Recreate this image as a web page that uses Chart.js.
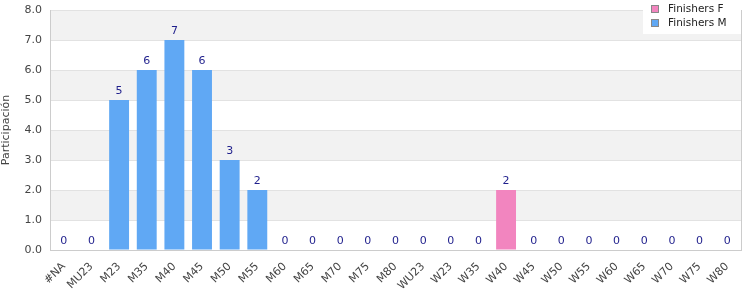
<!DOCTYPE html>
<html lang="es">
<head>
<meta charset="UTF-8">
<title>Participación</title>
<script src="https://cdn.jsdelivr.net/npm/chart.js"></script>
<style>
  html, body { margin: 0; padding: 0; background: #fff; }
  #wrap { width: 750px; height: 300px; }
</style>
</head>
<body>
<div id="wrap"><canvas id="chart" width="750" height="300"></canvas></div>
<script>
const categories = ['#NA', 'MU23', 'M23', 'M35', 'M40', 'M45', 'M50', 'M55', 'M60', 'M65', 'M70', 'M75', 'M80',
  'WU23', 'W23', 'W35', 'W40', 'W45', 'W50', 'W55', 'W60', 'W65', 'W70', 'W75', 'W80'];
const finishersF = [0, 0, 0, 0, 0, 0, 0, 0, 0, 0, 0, 0, 0, 0, 0, 0, 2, 0, 0, 0, 0, 0, 0, 0, 0];
const finishersM = [0, 0, 5, 6, 7, 6, 3, 2, 0, 0, 0, 0, 0, 0, 0, 0, 0, 0, 0, 0, 0, 0, 0, 0, 0];
const yTicks = [0, 1, 2, 3, 4, 5, 6, 7, 8];

const FONT = '"DejaVu Sans", Verdana, sans-serif';
const pink = '#f285bf';
const blue = '#60a8f4';

// alternating horizontal bands behind the bars
const bands = {
  id: 'bands',
  beforeDraw(chart) {
    const { ctx, chartArea: a, scales: { y } } = chart;
    ctx.save();
    for (let i = 0; i < yTicks.length - 1; i++) {
      if (i % 2 === 1) {
        const top = y.getPixelForValue(yTicks[i + 1]);
        const bot = y.getPixelForValue(yTicks[i]);
        ctx.fillStyle = '#f2f2f2';
        ctx.fillRect(a.left, top, a.right - a.left, bot - top);
      }
    }
    ctx.strokeStyle = '#cccccc';
    ctx.lineWidth = 1;
    ctx.beginPath();
    ctx.moveTo(a.right + 0.5, a.top);
    ctx.lineTo(a.right + 0.5, a.bottom);
    ctx.stroke();
    ctx.restore();
  }
};

// totals above each stack + legend box
const extras = {
  id: 'extras',
  afterDatasetsDraw(chart) {
    const { ctx, scales: { x, y } } = chart;
    ctx.save();
    ctx.font = '11px ' + FONT;
    ctx.fillStyle = '#1f1f8c';
    ctx.textAlign = 'center';
    ctx.textBaseline = 'bottom';
    categories.forEach((c, i) => {
      const total = finishersF[i] + finishersM[i];
      ctx.fillText(String(total), x.getPixelForValue(i), y.getPixelForValue(total) - 3);
    });
    ctx.restore();
  },
  afterDraw(chart) {
    const { ctx, chartArea: a } = chart;
    const items = [['Finishers F', pink], ['Finishers M', blue]];
    ctx.save();
    ctx.fillStyle = '#ffffff';
    ctx.fillRect(a.right - 98, 0, 98, 34);
    ctx.font = '10.5px ' + FONT;
    ctx.textBaseline = 'middle';
    items.forEach(([label, color], i) => {
      const cy = 9 + i * 14;
      ctx.fillStyle = color;
      ctx.fillRect(a.right - 89.5, cy - 3.5, 7, 7);
      ctx.strokeStyle = '#888888';
      ctx.lineWidth = 1;
      ctx.strokeRect(a.right - 89.5, cy - 3.5, 7, 7);
      ctx.fillStyle = '#222222';
      ctx.fillText(label, a.right - 73, cy + 0.5);
    });
    ctx.restore();
  }
};

new Chart(document.getElementById('chart'), {
  type: 'bar',
  data: {
    labels: categories,
    datasets: [
      { label: 'Finishers F', data: finishersF, backgroundColor: pink, barPercentage: 0.72, categoryPercentage: 1 },
      { label: 'Finishers M', data: finishersM, backgroundColor: blue, barPercentage: 0.72, categoryPercentage: 1 }
    ]
  },
  options: {
    responsive: false,
    animation: false,
    layout: { padding: { top: 10, right: 9, left: 0, bottom: 0 } },
    plugins: { legend: { display: false }, tooltip: { enabled: false } },
    scales: {
      x: {
        stacked: true,
        grid: { display: false },
        border: { color: '#cccccc' },
        ticks: {
          font: { family: FONT, size: 11 },
          color: '#444444',
          minRotation: 45,
          maxRotation: 45,
          autoSkip: false,
          padding: 2
        },
        afterFit(s) { s.height = 50; }
      },
      y: {
        stacked: true,
        min: 0,
        max: 8,
        grid: { color: '#e2e2e2', drawTicks: false },
        border: { color: '#cccccc' },
        ticks: {
          stepSize: 1,
          font: { family: FONT, size: 11 },
          color: '#444444',
          padding: 8,
          callback: v => v.toFixed(1)
        },
        title: {
          display: true,
          text: 'Participación',
          font: { family: FONT, size: 11 },
          color: '#444444',
          padding: 0
        },
        afterFit(s) { s.width = 50; s.paddingTop = 0; s.paddingBottom = 0; }
      }
    }
  },
  plugins: [bands, extras]
});
</script>
</body>
</html>
